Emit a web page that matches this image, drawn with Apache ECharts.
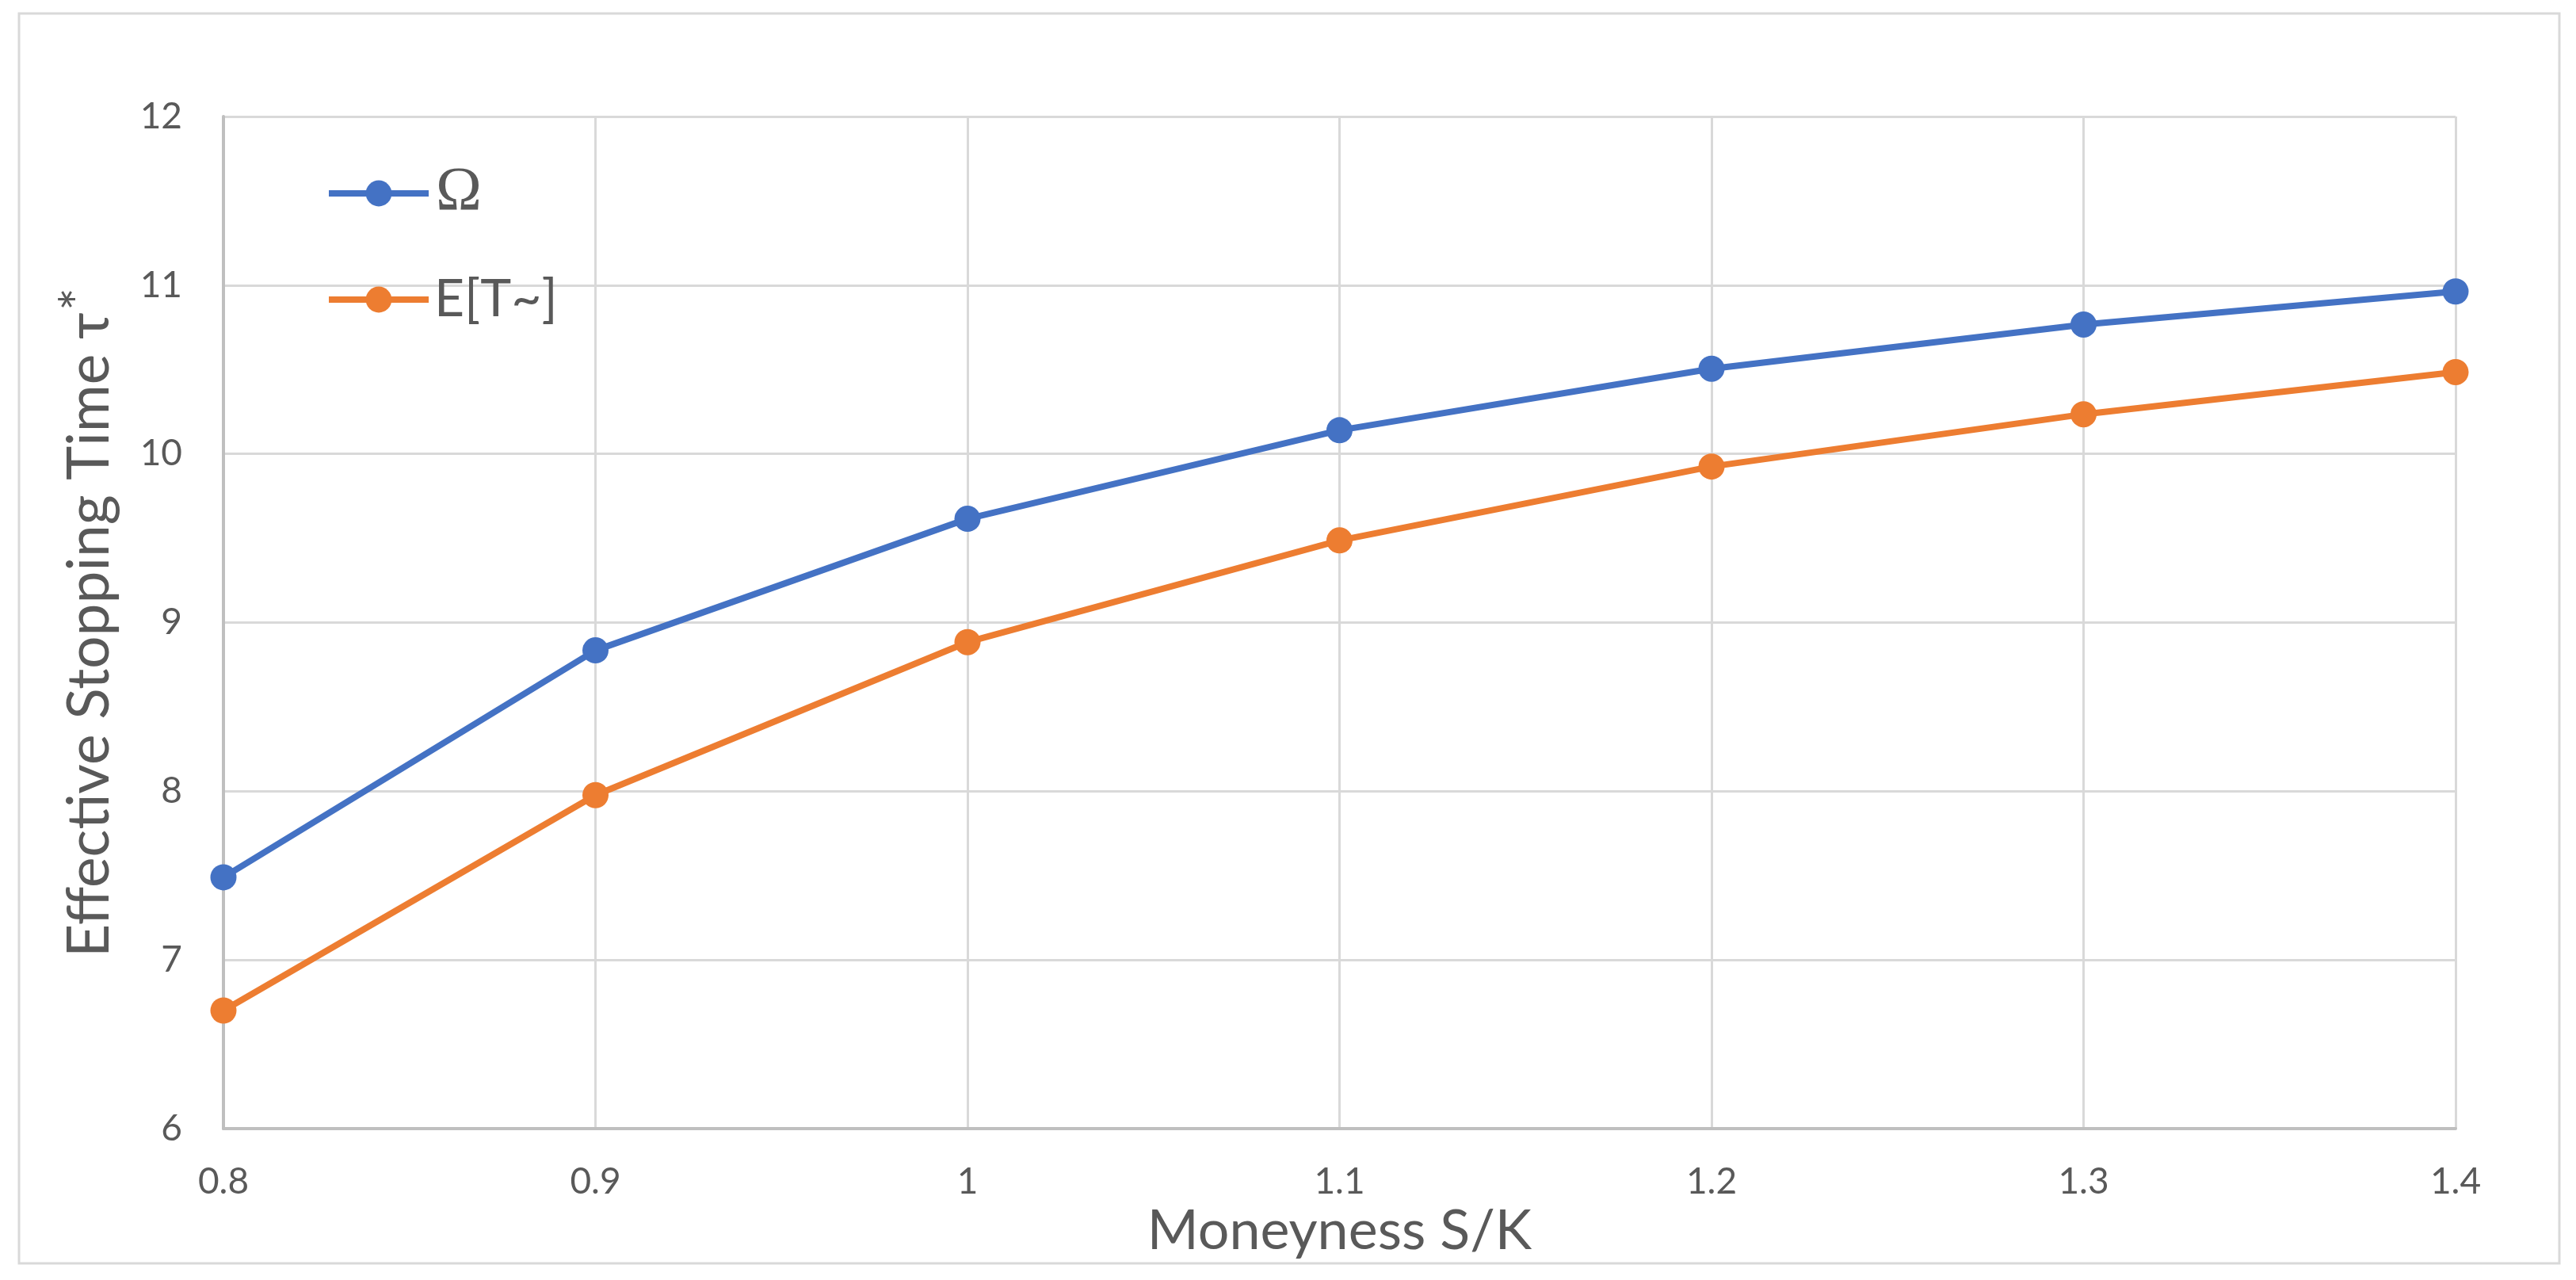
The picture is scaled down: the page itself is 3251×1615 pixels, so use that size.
<!DOCTYPE html>
<html>
<head>
<meta charset="utf-8">
<script src="https://cdn.jsdelivr.net/npm/echarts@6/dist/echarts.min.js"></script>
<style>
html,body{margin:0;padding:0;background:#fff;}
#chart{width:3251px;height:1615px;}
</style>
</head>
<body>
<div id="chart"></div>
<script>
// Data
const categories = ['0.8', '0.9', '1', '1.1', '1.2', '1.3', '1.4'];
const omegaValues = [7.49, 8.835, 9.615, 10.14, 10.505, 10.767, 10.963];
const expectedTValues = [6.70, 7.977, 8.884, 9.487, 9.925, 10.235, 10.485];
const seriesNames = ['Ω', 'E[T~]'];
const xAxisTitle = 'Moneyness S/K';
const yAxisTitle = 'Effective Stopping Time τ';

const textColor = '#595959';
const font = 'Lato';

const chart = echarts.init(document.getElementById('chart'));
chart.setOption({
  backgroundColor: '#ffffff',
  animation: false,
  graphic: [{
    type: 'rect',
    shape: { x: 24, y: 17, width: 3206, height: 1577 },
    style: { fill: 'none', stroke: '#d9d9d9', lineWidth: 3 },
    silent: true
  }],
  grid: { left: 282, right: 152, top: 147, bottom: 191 },
  legend: {
    orient: 'vertical',
    left: 406,
    top: 200,
    itemWidth: 126,
    itemHeight: 41,
    itemGap: 62,
    data: seriesNames,
    lineStyle: { width: 8 },
    formatter: function (name) {
      return name === 'Ω' ? '{om|Ω}' : '{tx|' + name + '}';
    },
    textStyle: {
      color: textColor,
      rich: {
        om: { fontFamily: 'Liberation Serif', fontSize: 78, color: textColor, padding: [0, 0, 0, 4] },
        tx: { fontFamily: font, fontSize: 66, color: textColor, padding: [0, 0, 0, 2] }
      }
    }
  },
  xAxis: {
    type: 'category',
    data: categories,
    boundaryGap: false,
    name: xAxisTitle,
    nameLocation: 'middle',
    nameGap: 76,
    nameTextStyle: { fontFamily: font, fontSize: 70, color: textColor },
    axisLine: { show: true, lineStyle: { color: '#bfbfbf', width: 4 } },
    axisTick: { show: false },
    axisLabel: { fontFamily: font, fontSize: 46, color: textColor, margin: 44 },
    splitLine: { show: true, lineStyle: { color: '#d9d9d9', width: 3 } }
  },
  yAxis: {
    type: 'value',
    min: 6,
    max: 12,
    interval: 1,
    name: yAxisTitle + '{sup|*}',
    nameLocation: 'middle',
    nameGap: 124,
    nameTextStyle: {
      fontFamily: font, fontSize: 73, color: textColor,
      rich: { sup: { fontFamily: font, fontSize: 68, color: textColor, verticalAlign: 'top', padding: [0, 0, 22, 2] } }
    },
    axisLine: { show: true, lineStyle: { color: '#bfbfbf', width: 4 } },
    axisTick: { show: false },
    axisLabel: { fontFamily: font, fontSize: 46, color: textColor, margin: 52 },
    splitLine: { show: true, lineStyle: { color: '#d9d9d9', width: 3 } }
  },
  series: [
    {
      name: seriesNames[0],
      type: 'line',
      data: omegaValues,
      symbol: 'circle',
      symbolSize: 33,
      lineStyle: { color: '#4472C4', width: 8 },
      itemStyle: { color: '#4472C4' },
      z: 3
    },
    {
      name: seriesNames[1],
      type: 'line',
      data: expectedTValues,
      symbol: 'circle',
      symbolSize: 33,
      lineStyle: { color: '#ED7D31', width: 8 },
      itemStyle: { color: '#ED7D31' },
      z: 2
    }
  ]
});
</script>
</body>
</html>
